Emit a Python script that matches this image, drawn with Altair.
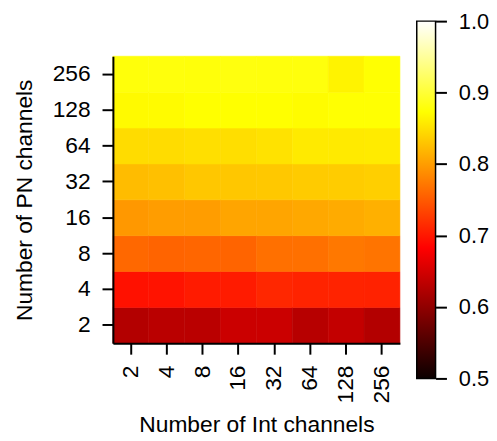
import altair as alt
import pandas as pd

int_channels = ["2", "4", "8", "16", "32", "64", "128", "256"]
pn_channels = ["2", "4", "8", "16", "32", "64", "128", "256"]

# accuracy per PN-channel row, across Int channels (2 ... 256)
acc_pn2 = [0.626, 0.631, 0.631, 0.644, 0.644, 0.629, 0.638, 0.626]
acc_pn4 = [0.695, 0.697, 0.703, 0.703, 0.712, 0.709, 0.709, 0.708]
acc_pn8 = [0.760, 0.757, 0.759, 0.757, 0.766, 0.766, 0.772, 0.769]
acc_pn16 = [0.796, 0.800, 0.800, 0.806, 0.806, 0.808, 0.810, 0.814]
acc_pn32 = [0.823, 0.826, 0.831, 0.831, 0.832, 0.834, 0.835, 0.837]
acc_pn64 = [0.847, 0.847, 0.849, 0.848, 0.851, 0.857, 0.857, 0.858]
acc_pn128 = [0.869, 0.870, 0.873, 0.873, 0.873, 0.871, 0.874, 0.874]
acc_pn256 = [0.878, 0.879, 0.878, 0.880, 0.879, 0.879, 0.864, 0.874]

rows = [acc_pn2, acc_pn4, acc_pn8, acc_pn16, acc_pn32, acc_pn64, acc_pn128, acc_pn256]

colorbar_ticks = [0.5, 0.6, 0.7, 0.8, 0.9, 1.0]

# matplotlib "hot" colormap anchors
hot_domain = [0.5, 0.5 + 0.5 * 0.365079, 0.5 + 0.5 * 0.746032, 1.0]
hot_colors = ["#0b0000", "#ff0000", "#ffff00", "#ffffff"]

records = []
for pn, row in zip(pn_channels, rows):
    for ic, v in zip(int_channels, row):
        records.append({"Int": ic, "PN": pn, "acc": v})
df = pd.DataFrame(records)

FONT = "Liberation Sans"

hot_scale = alt.Scale(domain=hot_domain, range=hot_colors, interpolate="rgb")

heat = alt.Chart(df).mark_rect(strokeWidth=0.6).encode(
    x=alt.X("Int:N", sort=int_channels,
            axis=alt.Axis(title="Number of Int channels", labelAngle=270,
                          labelAlign="right", labelBaseline="middle",
                          labelPadding=11, titlePadding=11)),
    y=alt.Y("PN:N", sort=list(reversed(pn_channels)),
            axis=alt.Axis(title="Number of PN channels", labelPadding=12,
                          titlePadding=16)),
    color=alt.Color("acc:Q", scale=hot_scale, legend=None),
    stroke=alt.Stroke("acc:Q", scale=hot_scale, legend=None),
).properties(width=290, height=290)

cb_df = pd.DataFrame({"lo": [min(colorbar_ticks)], "hi": [max(colorbar_ticks)]})

grad = alt.Gradient(
    gradient="linear",
    stops=[alt.GradientStop(color=c, offset=(d - 0.5) / 0.5)
           for c, d in zip(hot_colors, hot_domain)],
    x1=0, x2=0, y1=1, y2=0,
)

colorbar = alt.Chart(cb_df).mark_rect(fill=grad, stroke="black",
                                      strokeWidth=1.5).encode(
    y=alt.Y("lo:Q", scale=alt.Scale(domain=[0.5, 1.0], nice=False, zero=False),
            axis=alt.Axis(orient="right", values=colorbar_ticks, format=".1f",
                          title=None, domain=False, grid=False,
                          tickSize=11, labelPadding=12, labelFontSize=22)),
    y2="hi:Q",
).properties(width=19, height=361)

chart = alt.hconcat(heat, colorbar, spacing=17, center=True, bounds="flush").properties(
    padding={"left": 5, "top": 0, "right": 0, "bottom": 5}
).configure_view(
    strokeWidth=0
).configure_axis(
    labelFont=FONT, titleFont=FONT, labelFontSize=23, titleFontSize=23,
    titleFontWeight="normal", labelColor="black", titleColor="black",
    domainColor="black", domainWidth=2, tickColor="black", tickWidth=2,
    tickSize=11, grid=False,
)

chart.save("out.html", embed_options={"renderer": "svg", "actions": False})
